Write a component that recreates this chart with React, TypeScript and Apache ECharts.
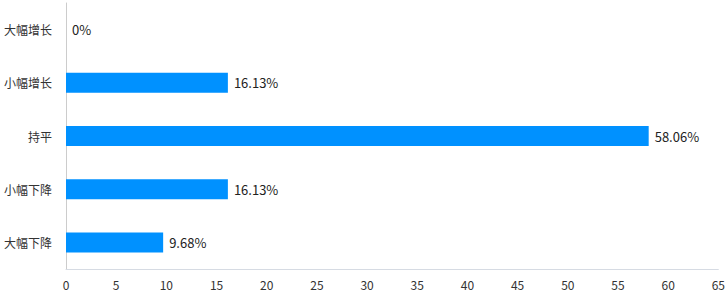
import React, { useEffect, useRef } from "react";
import * as echarts from "echarts";

const categories = ["大幅增长", "小幅增长", "持平", "小幅下降", "大幅下降"];
const values = [0, 16.13, 58.06, 16.13, 9.68];
const labels = ["0%", "16.13%", "58.06%", "16.13%", "9.68%"];

export default function App() {
  const ref = useRef<HTMLDivElement>(null);
  useEffect(() => {
    if (!ref.current) return;
    const chart = echarts.init(ref.current, undefined, { renderer: "svg", width: 728, height: 296 });
    chart.setOption({
      animation: false,
      textStyle: { fontFamily: "Noto Sans CJK SC" },
      grid: { left: 66, width: 660, top: 3, height: 266, containLabel: false },
      xAxis: {
        type: "value",
        min: 0,
        max: 65,
        interval: 5,
        axisLine: { show: true, lineStyle: { color: "#d6dbe3" } },
        axisTick: { show: false },
        splitLine: { show: false },
        axisLabel: { color: "#333", fontSize: 12, margin: 9 },
      },
      yAxis: {
        type: "category",
        data: categories,
        inverse: true,
        axisLine: { show: true, lineStyle: { color: "#cccccc" } },
        axisTick: { show: false },
        axisLabel: { color: "#333", fontSize: 12, margin: 14 },
      },
      series: [
        {
          type: "bar",
          data: values,
          barWidth: 20,
          itemStyle: { color: "#0091ff" },
          label: {
            show: true,
            position: "right",
            distance: 6,
            color: "#222",
            fontSize: 13,
            formatter: (p: any) => labels[p.dataIndex],
          },
        },
      ],
    });
    return () => chart.dispose();
  }, []);
  return (
    <div
      ref={ref}
      style={{ position: "fixed", left: 0, top: 0, width: 728, height: 296, background: "#fff" }}
    />
  );
}
